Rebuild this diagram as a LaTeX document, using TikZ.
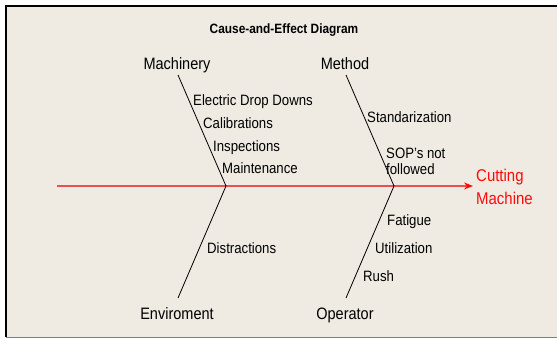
\documentclass[tikz,border=0pt]{standalone}
\usepackage{fontspec}
\setmainfont{Liberation Sans}[FakeStretch=0.88]
\usetikzlibrary{arrows.meta}
\definecolor{bgcol}{RGB}{239,235,226}
\definecolor{spinecol}{RGB}{238,78,78}
\definecolor{effectcol}{RGB}{255,10,10}
\begin{document}
\begin{tikzpicture}[x=1pt,y=-1pt,
  title/.style={font=\bfseries\fontsize{13.5}{15}\selectfont, inner sep=0pt, anchor=base},
  bone/.style={font=\fontsize{16.5}{18}\selectfont, inner sep=0pt, anchor=base},
  cause/.style={font=\fontsize{15}{17}\selectfont, inner sep=0pt, anchor=base west},
  effect/.style={font=\fontsize{17}{19}\selectfont, text=effectcol, inner sep=0pt, anchor=base west},
  boneline/.style={black, line width=0.8pt},
  spineline/.style={spinecol, line width=1.4pt},
  tipstyle/.style={-{Stealth[length=9pt,width=7pt,fill=effectcol,color=effectcol]}}
]
\useasboundingbox (0,0) rectangle (557,339);
% frame and background
\fill[white] (0,0) rectangle (557,339);
\fill[bgcol] (6,6) rectangle (557,337);
\draw[black, line width=2pt] (5,6) -- (557,6);
\draw[black, line width=2pt] (6,5) -- (6,337);
\draw[gray, line width=1pt] (6,337.5) -- (557,337.5);

% title
\node[title] (ttl) at (284,34) {Cause-and-Effect Diagram};

% category labels
\node[bone] (mach) at (177,70) {Machinery};
\node[bone] (meth) at (345,70) {Method};
\node[bone] (env)  at (177,319) {Enviroment};
\node[bone] (oper) at (345,319) {Operator};

% bone end points
\coordinate (machtop) at (178,75);
\coordinate (methtop) at (346,75);
\coordinate (envbot)  at (178,298);
\coordinate (operbot) at (346,298);
\coordinate (j1) at (226,186);
\coordinate (j2) at (394,186);
\coordinate (spinestart) at (57,186);
\coordinate (spineend) at (473,186);

% spine
\draw[spineline, tipstyle] (spinestart) -- (spineend);

% bones
\draw[boneline] (machtop) -- (j1) -- (envbot);
\draw[boneline] (methtop) -- (j2) -- (operbot);

% effect
\node[effect] (cut1) at (476,182) {Cutting};
\node[effect] (cut2) at (476,205) {Machine};

% causes
\node[cause] (c1) at (193,106) {Electric Drop Downs};
\node[cause] (c2) at (203,129) {Calibrations};
\node[cause] (c3) at (213,152) {Inspections};
\node[cause] (c4) at (222,174) {Maintenance};
\node[cause] (c5) at (367,123) {Standarization};
\node[cause] (c6) at (386,159) {SOP's not};
\node[cause] (c7) at (386,175) {followed};
\node[cause] (c8) at (207,254) {Distractions};
\node[cause] (c9) at (387,226) {Fatigue};
\node[cause] (c10) at (375,254) {Utilization};
\node[cause] (c11) at (363,281) {Rush};
\end{tikzpicture}
\end{document}
